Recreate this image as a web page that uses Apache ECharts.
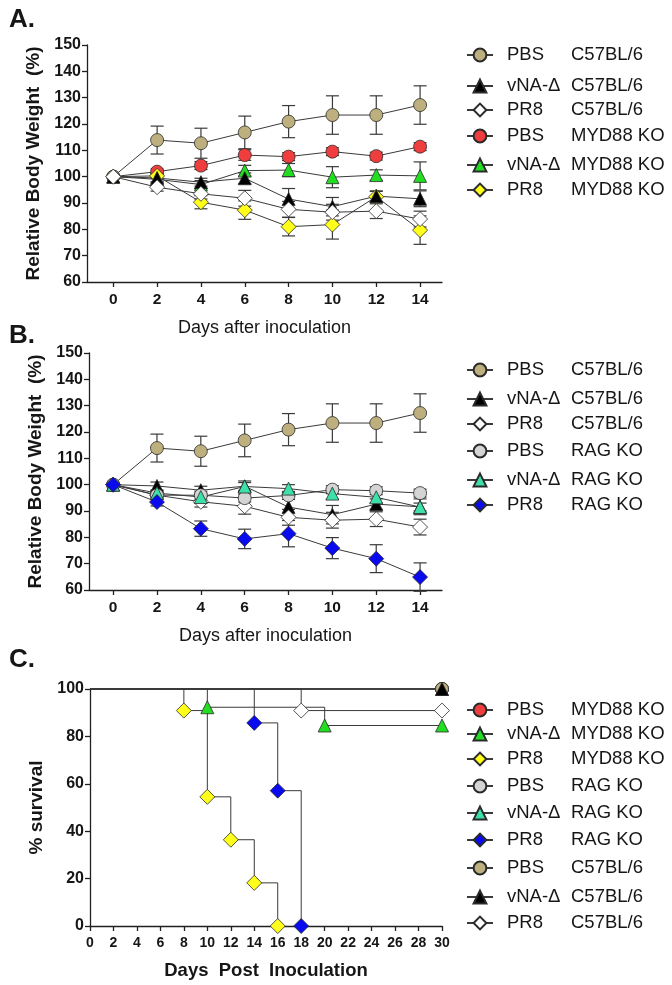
<!DOCTYPE html>
<html><head><meta charset="utf-8">
<script src="https://cdn.jsdelivr.net/npm/echarts@6/dist/echarts.min.js"></script>
<style>html,body{margin:0;padding:0;background:#fff}#c{width:672px;height:985px}</style>
</head><body><div id="c"></div>
<script>
// ---------- DATA ----------
const days = [0, 2, 4, 6, 8, 10, 12, 14];
const weightTicks = [0, 2, 4, 6, 8, 10, 12, 14];
// C57BL/6 groups (panels A and B)
const pbsC57 = [100, 113.9, 112.7, 116.8, 120.9, 123.4, 123.4, 127.2];
const pbsC57Err = [0, 5.3, 5.7, 6.2, 6.1, 7.3, 7.3, 7.3];
const vnaC57 = [100, 99.5, 97.9, 99.4, 91.5, 88.6, 92.6, 91.6];
const vnaC57Err = [0, 1.5, 1.5, 2, 4, 3.5, 2, 3];
const pr8C57 = [100, 96, 93.5, 91.8, 87.6, 86.5, 86.9, 83.9];
const pr8C57Err = [0, 1.5, 2, 3, 3, 3, 2.8, 3];
// MYD88 KO groups (panel A)
const pbsMyd = [100, 101.9, 104.2, 108.2, 107.6, 109.5, 107.8, 111.4];
const pbsMydErr = [0, 1, 1.5, 2, 1.5, 1.5, 1.5, 1.5];
const vnaMyd = [100, 99, 97, 102.3, 102.5, 99.8, 100.6, 100.3];
const vnaMydErr = [0, 1, 1.5, 2, 2.5, 4, 2, 5.3];
const pr8Myd = [100, 100.3, 90.3, 87.3, 81, 81.8, 92.4, 79.7];
const pr8MydErr = [0, 1, 2.5, 3.5, 3.5, 5.5, 2, 5.4];
// RAG KO groups (panel B)
const pbsRag = [100, 96, 96, 94.9, 95.9, 98.1, 97.7, 96.8];
const pbsRagErr = [0, 1, 1.5, 1.5, 1.5, 1.5, 1.5, 1.5];
const vnaRag = [100, 96.8, 95.3, 99.3, 98.5, 96.6, 95.2, 91.5];
const vnaRagErr = [0, 1, 1.5, 1.5, 1.5, 2, 2, 1.5];
const pr8Rag = [100, 93.4, 83.3, 79.4, 81.4, 75.9, 71.9, 64.9];
const pr8RagErr = [0, 1.5, 2.9, 3.7, 5, 4, 5.3, 5.4];
// Survival (panel C)
const pbsMydSurvDays = [0, 30];   const pbsMydSurv = [100, 100];
const vnaMydSurvDays = [0, 10, 20, 30]; const vnaMydSurv = [100, 92.3, 84.6, 84.6];
const pr8MydSurvDays = [0, 8, 10, 12, 14, 16]; const pr8MydSurv = [100, 90.9, 54.5, 36.4, 18.2, 0];
const pbsRagSurvDays = [0, 30];   const pbsRagSurv = [100, 100];
const vnaRagSurvDays = [0, 30];   const vnaRagSurv = [100, 100];
const pr8RagSurvDays = [0, 14, 16, 18]; const pr8RagSurv = [100, 85.7, 57.1, 0];
const pbsC57SurvDays = [0, 30];   const pbsC57Surv = [100, 100];
const vnaC57SurvDays = [0, 30];   const vnaC57Surv = [100, 100];
const pr8C57SurvDays = [0, 18, 30]; const pr8C57Surv = [100, 90.9, 90.9];

// ---------- STYLE ----------
const FONT = 'Liberation Sans, Arial, sans-serif';
const INK = '#161616';
const LINE = '#3a3a3a';
const styles = {
  'PBS C57BL/6':    {symbol: 'circle',   color: '#BDB07E', size: 13},
  'vNA-Δ C57BL/6':  {symbol: 'triangle', color: '#000000', size: 13},
  'PR8 C57BL/6':    {symbol: 'diamond',  color: '#FFFFFF', size: 15},
  'PBS MYD88 KO':   {symbol: 'circle',   color: '#F03E3E', size: 13},
  'vNA-Δ MYD88 KO': {symbol: 'triangle', color: '#22DD22', size: 13},
  'PR8 MYD88 KO':   {symbol: 'diamond',  color: '#FFFF1A', size: 15},
  'PBS RAG KO':     {symbol: 'circle',   color: '#D4D4D4', size: 13},
  'vNA-Δ RAG KO':   {symbol: 'triangle', color: '#3EE0AA', size: 13},
  'PR8 RAG KO':     {symbol: 'diamond',  color: '#0A0AEE', size: 15}
};

function lineSeries(name, gi, data, extra) {
  const s = styles[name];
  return Object.assign({
    type: 'line', name, xAxisIndex: gi, yAxisIndex: gi, data,
    symbol: s.symbol, symbolSize: s.size, showAllSymbol: true, clip: false,
    itemStyle: {color: s.color, borderColor: '#2a2a2a', borderWidth: 0.8},
    lineStyle: {color: LINE, width: 1},
    emphasis: {disabled: true}, animation: false, z: 3
  }, extra || {});
}
function errSeries(gi, vals, errs) {
  return {
    type: 'custom', xAxisIndex: gi, yAxisIndex: gi, silent: true, animation: false, z: 2, clip: false,
    data: days.map((d, i) => [d, vals[i], errs[i]]),
    renderItem: (params, api) => {
      const x = api.value(0), m = api.value(1), e = api.value(2);
      if (!e) return null;
      const t = api.coord([x, m + e]), b = api.coord([x, m - e]);
      const hw = 6.5, st = {stroke: LINE, lineWidth: 1.2};
      return {type: 'group', children: [
        {type: 'line', shape: {x1: t[0], y1: t[1], x2: b[0], y2: b[1]}, style: st},
        {type: 'line', shape: {x1: t[0] - hw, y1: t[1], x2: t[0] + hw, y2: t[1]}, style: st},
        {type: 'line', shape: {x1: b[0] - hw, y1: b[1], x2: b[0] + hw, y2: b[1]}, style: st}
      ]};
    }
  };
}
function weightGroup(name, gi, vals, errs) {
  return [errSeries(gi, vals, errs), lineSeries(name, gi, days.map((d, i) => [d, vals[i]]))];
}
function survGroup(name, sDays, sVals) {
  return lineSeries(name, 2, sDays.map((d, i) => ({value: [d, sVals[i]], symbol: d === 0 ? 'none' : styles[name].symbol})), {step: 'end'});
}

function legendItem(name, cy) {
  return {
    data: [name], left: 466, top: cy - 10, padding: 0, itemWidth: 26, itemHeight: 16,
    selectedMode: false,
    formatter: n => { const i = n.indexOf(' '); return '{a|' + n.slice(0, i) + '}{b|' + n.slice(i + 1) + '}'; },
    textStyle: {fontFamily: FONT, fontSize: 18.5, color: INK, lineHeight: 20,
      rich: {a: {width: 64, padding: [0, 0, 0, 9], fontFamily: FONT, fontSize: 18.5, color: INK},
             b: {fontFamily: FONT, fontSize: 18.5, color: INK}}}
  };
}

const axisLineStyle = {show: true, onZero: false, lineStyle: {color: '#202020', width: 1.3}};
const tickStyle = {show: true, length: 5, lineStyle: {color: '#202020', width: 1.3}};
function weightX(gi, min) {
  return {type: 'value', gridIndex: gi, min: min, max: 15,
    axisLine: axisLineStyle, axisTick: Object.assign({customValues: weightTicks}, tickStyle),
    axisLabel: {customValues: weightTicks, fontFamily: FONT, fontWeight: 'bold', fontSize: 15.5, color: INK, margin: 10},
    splitLine: {show: false},
    name: 'Days after inoculation', nameLocation: 'middle', nameGap: 37,
    nameTextStyle: {fontFamily: FONT, fontSize: 18, color: INK}};
}
function weightY(gi, gap) {
  return {type: 'value', gridIndex: gi, min: 60, max: 150, interval: 10,
    axisLine: axisLineStyle, axisTick: tickStyle,
    axisLabel: {fontFamily: FONT, fontWeight: 'bold', fontSize: 16, color: INK, margin: 6},
    splitLine: {show: false},
    name: 'Relative Body Weight  (%)', nameLocation: 'middle', nameRotate: 90, nameGap: gap,
    nameTextStyle: {fontFamily: FONT, fontWeight: 'bold', fontSize: 19, color: INK}};
}

const series = [].concat(
  weightGroup('PBS MYD88 KO', 0, pbsMyd, pbsMydErr),
  weightGroup('vNA-Δ MYD88 KO', 0, vnaMyd, vnaMydErr),
  weightGroup('PR8 MYD88 KO', 0, pr8Myd, pr8MydErr),
  weightGroup('PBS C57BL/6', 0, pbsC57, pbsC57Err),
  weightGroup('vNA-Δ C57BL/6', 0, vnaC57, vnaC57Err),
  weightGroup('PR8 C57BL/6', 0, pr8C57, pr8C57Err),
  weightGroup('PBS C57BL/6', 1, pbsC57, pbsC57Err),
  weightGroup('vNA-Δ C57BL/6', 1, vnaC57, vnaC57Err),
  weightGroup('PR8 C57BL/6', 1, pr8C57, pr8C57Err),
  weightGroup('PBS RAG KO', 1, pbsRag, pbsRagErr),
  weightGroup('vNA-Δ RAG KO', 1, vnaRag, vnaRagErr),
  weightGroup('PR8 RAG KO', 1, pr8Rag, pr8RagErr),
  [
    survGroup('PBS MYD88 KO', pbsMydSurvDays, pbsMydSurv),
    survGroup('vNA-Δ MYD88 KO', vnaMydSurvDays, vnaMydSurv),
    survGroup('PR8 MYD88 KO', pr8MydSurvDays, pr8MydSurv),
    survGroup('PBS RAG KO', pbsRagSurvDays, pbsRagSurv),
    survGroup('vNA-Δ RAG KO', vnaRagSurvDays, vnaRagSurv),
    survGroup('PR8 RAG KO', pr8RagSurvDays, pr8RagSurv),
    survGroup('PBS C57BL/6', pbsC57SurvDays, pbsC57Surv),
    survGroup('vNA-Δ C57BL/6', vnaC57SurvDays, vnaC57Surv),
    survGroup('PR8 C57BL/6', pr8C57SurvDays, pr8C57Surv)
  ]
);

const legendA = ['PBS C57BL/6', 'vNA-Δ C57BL/6', 'PR8 C57BL/6', 'PBS MYD88 KO', 'vNA-Δ MYD88 KO', 'PR8 MYD88 KO'];
const legendB = ['PBS C57BL/6', 'vNA-Δ C57BL/6', 'PR8 C57BL/6', 'PBS RAG KO', 'vNA-Δ RAG KO', 'PR8 RAG KO'];
const legendC = ['PBS MYD88 KO', 'vNA-Δ MYD88 KO', 'PR8 MYD88 KO', 'PBS RAG KO', 'vNA-Δ RAG KO', 'PR8 RAG KO', 'PBS C57BL/6', 'vNA-Δ C57BL/6', 'PR8 C57BL/6'];
const rowsA = [55, 86, 110, 136, 165, 190];
const rowsB = [370, 399, 424, 451, 480, 505];
const rowsC = [710, 734, 759, 786, 813, 840, 868, 897, 923];

const legends = [].concat(
  legendA.map((n, i) => legendItem(n, rowsA[i])),
  legendB.map((n, i) => legendItem(n, rowsB[i])),
  legendC.map((n, i) => legendItem(n, rowsC[i]))
);

const chart = echarts.init(document.getElementById('c'), null, {renderer: 'canvas'});
chart.setOption({
  backgroundColor: '#fff',
  animation: false,
  title: [
    {text: 'A.', left: 4, top: 2, textStyle: {fontFamily: FONT, fontSize: 26, fontWeight: 'bold', color: INK}},
    {text: 'B.', left: 4, top: 318, textStyle: {fontFamily: FONT, fontSize: 26, fontWeight: 'bold', color: INK}},
    {text: 'C.', left: 4, top: 642, textStyle: {fontFamily: FONT, fontSize: 26, fontWeight: 'bold', color: INK}}
  ],
  grid: [
    {left: 87, top: 45, width: 355, height: 237},
    {left: 89, top: 353, width: 353, height: 237},
    {left: 90, top: 689, width: 352, height: 237}
  ],
  xAxis: [
    weightX(0, -1.2),
    weightX(1, -1.1),
    {type: 'value', gridIndex: 2, min: 0, max: 30, interval: 2,
      axisLine: axisLineStyle, axisTick: tickStyle,
      axisLabel: {fontFamily: FONT, fontWeight: 'bold', fontSize: 14, color: INK, margin: 10, showMinLabel: true, showMaxLabel: true},
      splitLine: {show: false},
      name: 'Days  Post  Inoculation', nameLocation: 'middle', nameGap: 35,
      nameTextStyle: {fontFamily: FONT, fontWeight: 'bold', fontSize: 18.5, color: INK}}
  ],
  yAxis: [
    weightY(0, 37),
    weightY(1, 39),
    {type: 'value', gridIndex: 2, min: 0, max: 100, interval: 20,
      axisLine: axisLineStyle, axisTick: tickStyle,
      axisLabel: {fontFamily: FONT, fontWeight: 'bold', fontSize: 16, color: INK, margin: 6},
      splitLine: {show: false},
      name: '% survival', nameLocation: 'middle', nameRotate: 90, nameGap: 43,
      nameTextStyle: {fontFamily: FONT, fontWeight: 'bold', fontSize: 19, color: INK}}
  ],
  legend: legends,
  series: series
});
</script></body></html>
